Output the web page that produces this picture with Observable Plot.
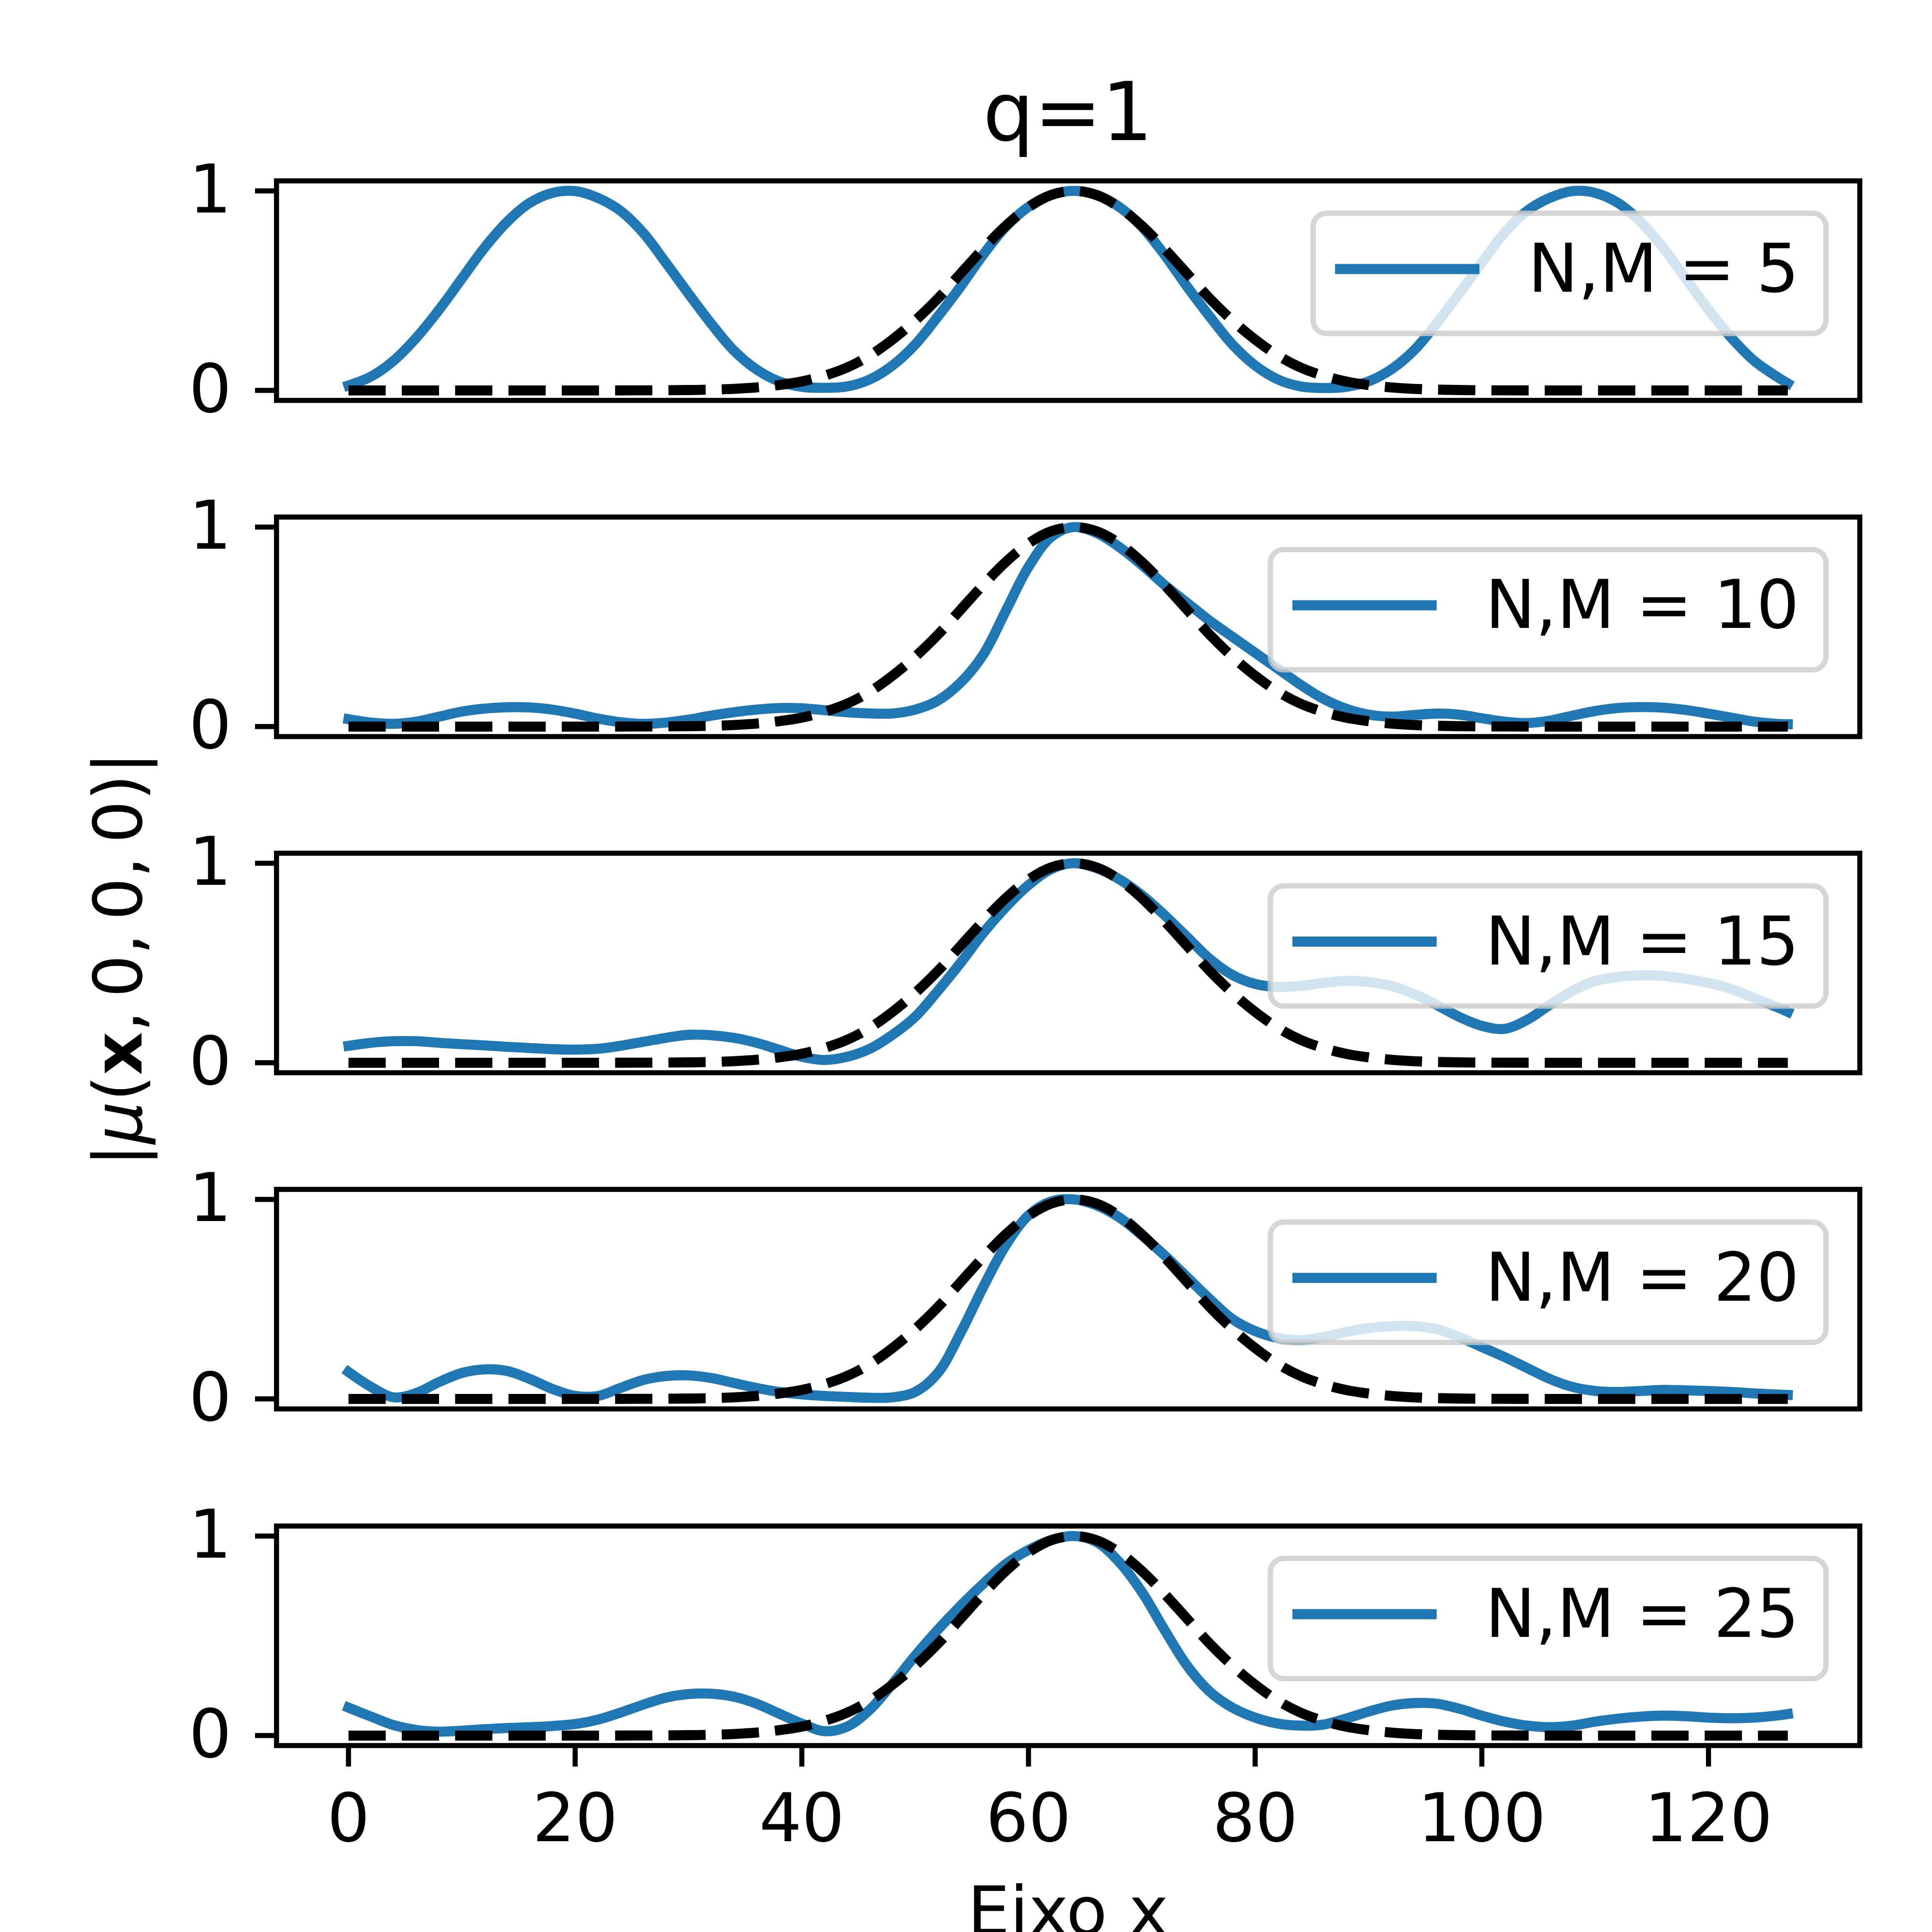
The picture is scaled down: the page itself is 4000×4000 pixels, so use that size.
<!DOCTYPE html>
<html>
<head>
<meta charset="utf-8">
<script src="https://cdn.jsdelivr.net/npm/d3@7"></script>
<script src="https://cdn.jsdelivr.net/npm/@observablehq/plot@0.6"></script>
<style>
html, body { margin: 0; padding: 0; background: #fff; }
#fig { position: relative; width: 4000px; height: 4000px; overflow: hidden; background: #fff; font-family: "DejaVu Sans"; }
#fig svg { position: absolute; left: 0; }
</style>
</head>
<body>
<div id="fig"></div>
<script>
// ---------- data ----------
const xs = [0,2,4,6,8,10,12,14,16,18,20,22,24,26,28,30,32,34,36,38,40,42,44,46,48,50,52,54,56,58,60,62,
            64,66,68,70,72,74,76,78,80,82,84,86,88,90,92,94,96,98,100,102,104,106,108,110,112,114,116,118,120,122,124,126,127];

const reference = [
  0,0,0,0,0,0,0,0,
  0,0,0,0,0.0002,0.0005,0.001,0.002,
  0.004,0.008,0.015,0.027,0.045,0.074,0.115,0.175,
  0.255,0.35,0.46,0.585,0.71,0.825,0.918,0.979,
  1,0.979,0.918,0.825,0.71,0.585,0.46,0.35,
  0.255,0.175,0.115,0.074,0.045,0.027,0.015,0.008,
  0.004,0.002,0.001,0.0005,0.0002,0,0,0,
  0,0,0,0,0,0,0,0,
  0];

const nm5 = [
  0.025,0.07,0.15,0.265,0.405,0.56,0.715,0.845,
  0.94,0.99,0.999,0.965,0.9,0.79,0.64,0.485,
  0.335,0.2,0.105,0.045,0.018,0.013,0.02,0.055,
  0.125,0.23,0.37,0.52,0.68,0.82,0.92,0.98,
  1,0.98,0.92,0.82,0.68,0.52,0.37,0.23,
  0.125,0.055,0.02,0.012,0.018,0.045,0.105,0.2,
  0.335,0.485,0.64,0.79,0.9,0.965,0.999,0.99,
  0.94,0.845,0.715,0.56,0.405,0.265,0.15,0.07,
  0.035];

const nm10 = [
  0.037,0.02,0.014,0.025,0.05,0.075,0.09,0.097,
  0.096,0.085,0.065,0.04,0.022,0.014,0.02,0.035,
  0.055,0.072,0.085,0.093,0.092,0.082,0.072,0.066,
  0.066,0.085,0.13,0.22,0.36,0.58,0.8,0.95,
  1,0.97,0.9,0.81,0.71,0.62,0.53,0.45,
  0.37,0.29,0.21,0.14,0.09,0.06,0.05,0.058,
  0.065,0.06,0.042,0.025,0.018,0.03,0.055,0.078,
  0.093,0.098,0.095,0.083,0.065,0.045,0.025,0.014,
  0.012];

const nm15 = [
  0.085,0.1,0.108,0.108,0.1,0.093,0.087,0.08,
  0.074,0.068,0.066,0.07,0.085,0.105,0.125,0.14,
  0.138,0.125,0.1,0.065,0.03,0.014,0.03,0.07,
  0.14,0.23,0.36,0.5,0.65,0.78,0.89,0.97,
  1,0.975,0.92,0.84,0.74,0.63,0.52,0.44,
  0.395,0.38,0.385,0.4,0.41,0.405,0.385,0.345,
  0.29,0.23,0.185,0.17,0.215,0.29,0.36,0.41,
  0.43,0.438,0.435,0.42,0.4,0.37,0.325,0.28,
  0.255];

const nm20 = [
  0.135,0.06,0.008,0.03,0.085,0.13,0.148,0.14,
  0.1,0.05,0.015,0.015,0.055,0.095,0.115,0.118,
  0.105,0.08,0.055,0.035,0.023,0.015,0.01,0.006,
  0.008,0.035,0.13,0.33,0.56,0.77,0.92,0.99,
  1,0.97,0.91,0.82,0.72,0.61,0.5,0.4,
  0.34,0.305,0.295,0.31,0.335,0.355,0.365,0.365,
  0.35,0.31,0.26,0.21,0.155,0.1,0.06,0.04,
  0.035,0.04,0.045,0.043,0.04,0.035,0.028,0.022,
  0.02];

const nm25 = [
  0.14,0.095,0.052,0.028,0.02,0.025,0.032,0.038,
  0.042,0.048,0.058,0.08,0.115,0.155,0.19,0.208,
  0.21,0.195,0.16,0.11,0.06,0.022,0.045,0.13,
  0.26,0.4,0.53,0.65,0.76,0.86,0.93,0.98,
  1,0.97,0.87,0.72,0.53,0.35,0.22,0.14,
  0.09,0.06,0.05,0.055,0.085,0.12,0.15,0.163,
  0.16,0.135,0.1,0.07,0.05,0.042,0.05,0.07,
  0.085,0.095,0.1,0.097,0.09,0.087,0.09,0.1,
  0.108];

const series = [nm5, nm10, nm15, nm20, nm25];
const legendLabels = ["N,M = 5", "N,M = 10", "N,M = 15", "N,M = 20", "N,M = 25"];
const xTicks = [0, 20, 40, 60, 80, 100, 120];
const yTicks = [0, 1];
const titleText = "q=1";
const xLabelText = "Eixo x";

// ---------- layout ----------
const W = 4000, ML = 572, MR = 150, PT = 20, PH = 454.5;
const tops = [373.5, 1069.75, 1766, 2462.25, 3158.5];
const xDomain = [-6.35, 133.35];
const yDomain = [-0.05, 1.05];
const BLUE = "#1f77b4";
const LW = 20.8;

const fig = document.getElementById("fig");

series.forEach((vals, i) => {
  const last = i === series.length - 1;
  const MB = last ? 300 : 20;
  const blue = xs.map((x, j) => ({x, y: vals[j]}));
  const ref = xs.map((x, j) => ({x, y: reference[j]}));
  const marks = [
    Plot.line(blue, {x: "x", y: "y", stroke: BLUE, strokeWidth: LW, curve: "catmull-rom",
                     strokeLinecap: "square", strokeLinejoin: "round"}),
    Plot.line(ref, {x: "x", y: "y", stroke: "black", strokeWidth: LW, curve: "catmull-rom",
                    strokeDasharray: "77.1,33.3", strokeLinecap: "butt"}),
    Plot.frame({stroke: "black", strokeWidth: 10.5}),
    Plot.axisY({ticks: yTicks, tickSize: 44, tickPadding: 49, tickFormat: d => String(d),
                fontSize: 139, strokeWidth: 10.5, label: null})
  ];
  if (last) {
    marks.push(Plot.axisX({ticks: xTicks, tickSize: 44, tickPadding: 55, tickFormat: d => String(d),
                           fontSize: 139, strokeWidth: 10.5, label: null}));
  }
  const svg = Plot.plot({
    width: W,
    height: PT + PH + MB,
    marginLeft: ML, marginRight: MR, marginTop: PT, marginBottom: MB,
    style: {fontFamily: "DejaVu Sans", fontSize: "139px", background: "transparent", color: "black", overflow: "visible"},
    x: last ? {domain: xDomain} : {domain: xDomain, axis: null},
    y: {domain: yDomain},
    marks
  });
  svg.style.position = "absolute";
  svg.style.top = (tops[i] - PT) + "px";
  svg.style.left = "0px";
  fig.appendChild(svg);
});

// ---------- overlay: title, axis labels, legends ----------
const ov = d3.select(fig).append("svg")
  .attr("width", 4000).attr("height", 4000)
  .style("position", "absolute").style("top", "0px").style("left", "0px")
  .style("font-family", "DejaVu Sans");

const cx = (ML + (W - MR)) / 2;
ov.append("text").attr("x", cx).attr("y", 290).attr("text-anchor", "middle")
  .attr("font-size", 167).attr("fill", "black").text(titleText);

ov.append("text").attr("x", cx).attr("y", 4005).attr("text-anchor", "middle")
  .attr("font-size", 139).attr("fill", "black").text(xLabelText);

const yl = ov.append("text").attr("transform", "translate(293,1986) rotate(-90)")
  .attr("text-anchor", "middle").attr("font-size", 139).attr("fill", "black");
yl.append("tspan").text("|");
yl.append("tspan").attr("font-style", "italic").text("μ");
yl.append("tspan").text("(");
yl.append("tspan").attr("font-weight", "bold").text("x");
yl.append("tspan").text(",");
yl.append("tspan").attr("dx", 27).text("0,");
yl.append("tspan").attr("dx", 27).text("0,");
yl.append("tspan").attr("dx", 27).text("0)|");

legendLabels.forEach((lab, i) => {
  const g = ov.append("g");
  const top = tops[i] + 68;
  const txt = g.append("text").attr("font-size", 139).attr("fill", "black")
    .attr("y", top + 162.5).text(lab);
  const tw = txt.node().getComputedTextLength();
  const w = 445 + tw + 55.6;
  const right = 3780.5;
  const left = right - w;
  g.insert("rect", "text").attr("x", left).attr("y", top).attr("width", w).attr("height", 249)
    .attr("rx", 27.8).attr("ry", 27.8)
    .attr("fill", "white").attr("fill-opacity", 0.8)
    .attr("stroke", "#cccccc").attr("stroke-opacity", 0.8).attr("stroke-width", 11.1);
  g.insert("line", "text").attr("x1", left + 56).attr("x2", left + 334)
    .attr("y1", top + 115.5).attr("y2", top + 115.5)
    .attr("stroke", BLUE).attr("stroke-width", LW).attr("stroke-linecap", "square");
  txt.attr("x", left + 445);
});
</script>
</body>
</html>
